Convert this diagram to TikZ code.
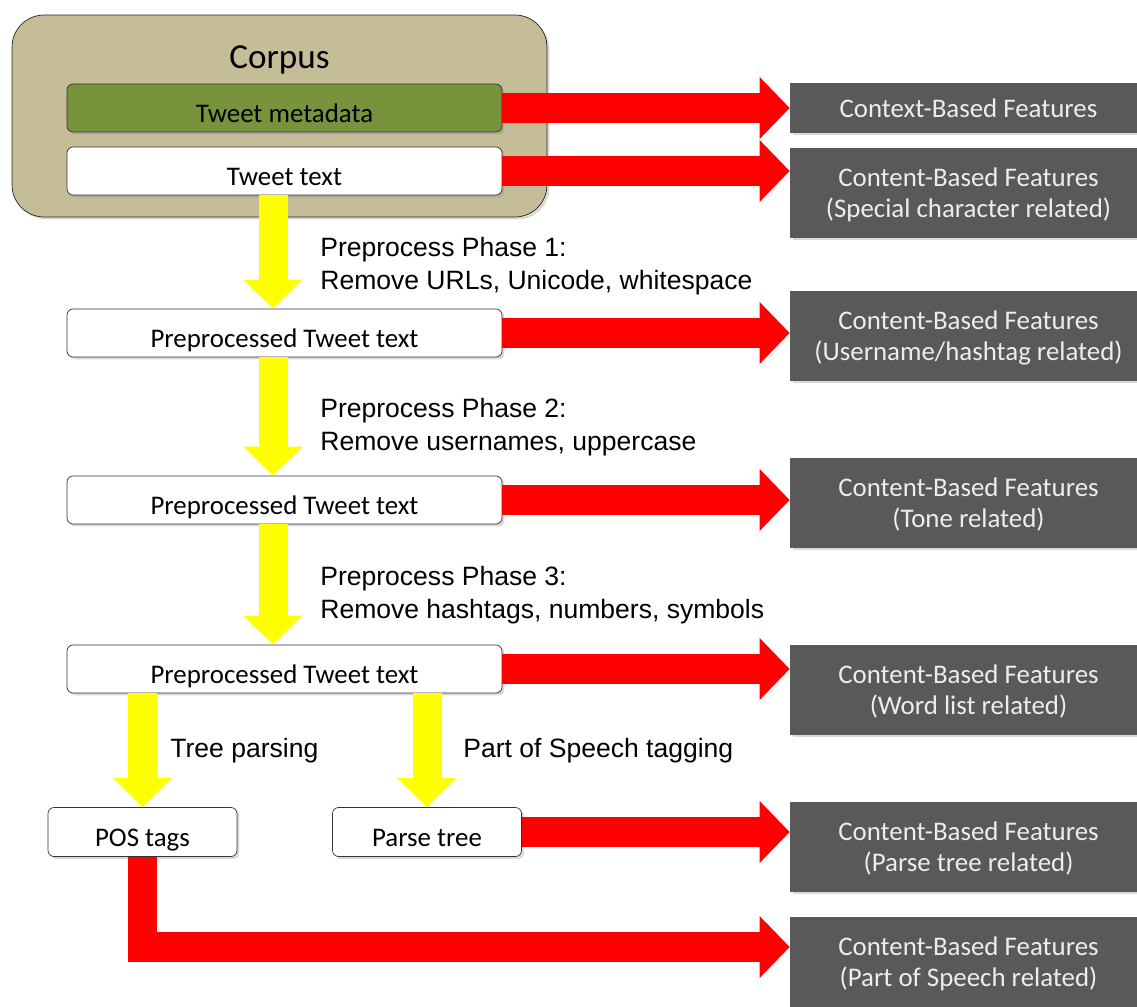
\documentclass[tikz,border=0pt]{standalone}
\usepackage{fontspec}
\setmainfont{Carlito}
\newfontfamily\labelfont{Liberation Sans}
\usetikzlibrary{arrows.meta, shadows}

\definecolor{corpustan}{HTML}{C4BD97}
\definecolor{metagreen}{HTML}{77933C}
\definecolor{featgray}{HTML}{595959}
\definecolor{flowred}{HTML}{FF0000}
\definecolor{flowyellow}{HTML}{FFFF00}

\tikzset{
  softshadow/.style={drop shadow={shadow xshift=0.05cm, shadow yshift=-0.05cm, opacity=0.3}},
  corpusbox/.style={draw=black!85, fill=corpustan, rounded corners=0.64cm,
    minimum width=10.7cm, minimum height=4.04cm, softshadow},
  textbox/.style={draw=black!80, fill=white, rounded corners=0.12cm,
    minimum width=8.7cm, minimum height=0.96cm, inner sep=0pt,
    text height=16pt, text depth=0pt,
    font=\fontsize{15.3}{18}\selectfont, softshadow},
  smallbox/.style={textbox, minimum width=3.78cm, minimum height=0.98cm},
  featbox/.style={fill=featgray, text=white!93!black, minimum width=7.14cm,
    minimum height=1.8cm, inner sep=0pt, align=center, text depth=-3.4pt,
    font=\fontsize{15.3}{17.6}\selectfont, softshadow},
  redflow/.style={draw=flowred, line width=0.6cm, line join=miter,
    -{Triangle[length=0.6cm, width=1.2cm]}},
  yellowflow/.style={draw=flowyellow, line width=0.58cm,
    -{Triangle[length=0.58cm, width=1.15cm]}},
  phaselabel/.style={anchor=north west, inner sep=0pt, align=left,
    font=\labelfont\fontsize{15.1}{18.7}\selectfont},
}

\begin{document}
\begin{tikzpicture}[x=0.02cm, y=-0.02cm]
  \useasboundingbox (0,0) rectangle (1137,1007);

  % Corpus with its two parts
  \node[corpusbox] (corpus) at (279.5,116) {};
  \node[font=\fontsize{20}{24}\selectfont] (corpustitle) at (279.5,60) {Corpus};
  \node[textbox, fill=metagreen] (meta) at (284.5,108) {Tweet metadata};
  \node[textbox] (tweet) at (284.5,171) {Tweet text};

  % Preprocessing chain
  \node[textbox] (pre1) at (284.5,333) {Preprocessed Tweet text};
  \node[textbox] (pre2) at (284.5,500) {Preprocessed Tweet text};
  \node[textbox] (pre3) at (284.5,669) {Preprocessed Tweet text};
  \node[smallbox] (pos) at (142.5,832) {POS tags};
  \node[smallbox] (parse) at (427,832) {Parse tree};

  % Feature boxes on the right
  \node[featbox, minimum height=1cm, text depth=0pt] (ctxfeat) at (968.5,108) {Context-Based Features};
  \node[featbox] (specfeat) at (968.5,193) {Content-Based Features\\(Special character related)};
  \node[featbox] (userfeat) at (968.5,336) {Content-Based Features\\(Username/hashtag related)};
  \node[featbox] (tonefeat) at (968.5,503) {Content-Based Features\\(Tone related)};
  \node[featbox] (wordfeat) at (968.5,690) {Content-Based Features\\(Word list related)};
  \node[featbox] (parsefeat) at (968.5,847) {Content-Based Features\\(Parse tree related)};
  \node[featbox] (posfeat) at (968.5,962) {Content-Based Features\\(Part of Speech related)};

  % Red arrows to the features
  \draw[redflow] (meta.east) -- (meta.east -| ctxfeat.west);
  \draw[redflow] (tweet.east) -- (tweet.east -| specfeat.west);
  \draw[redflow] (pre1.east) -- (pre1.east -| userfeat.west);
  \draw[redflow] (pre2.east) -- (pre2.east -| tonefeat.west);
  \draw[redflow] (pre3.east) -- (pre3.east -| wordfeat.west);
  \draw[redflow] (parse.east) -- (parse.east -| parsefeat.west);
  \coordinate (posturn) at ([yshift=0.3cm]posfeat.west);
  \draw[redflow] (pos.south) |- (posturn);

  % Yellow arrows down the chain
  \draw[yellowflow] ([xshift=-0.23cm]tweet.south) -- ([xshift=-0.23cm]pre1.north);
  \draw[yellowflow] ([xshift=-0.23cm]pre1.south) -- ([xshift=-0.23cm]pre2.north);
  \draw[yellowflow] ([xshift=-0.23cm]pre2.south) -- ([xshift=-0.23cm]pre3.north);
  \draw[yellowflow] (pos.north |- pre3.south) -- (pos.north);
  \draw[yellowflow] (parse.north |- pre3.south) -- (parse.north);

  % Step labels
  \node[phaselabel] (phase1) at (320,237) {Preprocess Phase 1:\\Remove URLs, Unicode, whitespace};
  \node[phaselabel] (phase2) at (320,398) {Preprocess Phase 2:\\Remove usernames, uppercase};
  \node[phaselabel] (phase3) at (320,566) {Preprocess Phase 3:\\Remove hashtags, numbers, symbols};
  \node[phaselabel] (treelabel) at (170,738) {Tree parsing};
  \node[phaselabel] (taglabel) at (463,738) {Part of Speech tagging};
\end{tikzpicture}
\end{document}
